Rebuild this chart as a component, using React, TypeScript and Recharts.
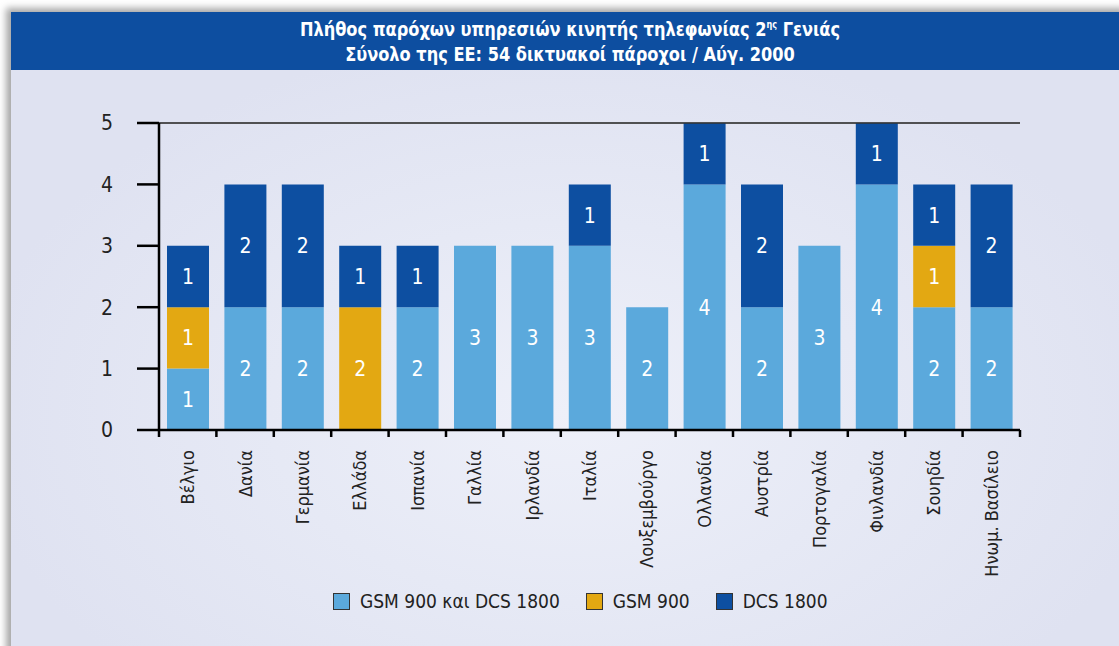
import React from 'react';
import {
  BarChart,
  Bar,
  XAxis,
  YAxis,
  CartesianGrid,
  LabelList,
  ReferenceLine,
} from 'recharts';

// χώρες της ΕΕ
const countries = [
  'Βέλγιο',
  'Δανία',
  'Γερμανία',
  'Ελλάδα',
  'Ισπανία',
  'Γαλλία',
  'Ιρλανδία',
  'Ιταλία',
  'Λουξεμβούργο',
  'Ολλανδία',
  'Αυστρία',
  'Πορτογαλία',
  'Φινλανδία',
  'Σουηδία',
  'Ηνωμ. Βασίλειο',
];
const gsmDcs = [1, 2, 2, 0, 2, 3, 3, 3, 2, 4, 2, 3, 4, 2, 2];
const gsm900 = [1, 0, 0, 2, 0, 0, 0, 0, 0, 0, 0, 0, 0, 1, 0];
const dcs1800 = [1, 2, 2, 1, 1, 0, 0, 1, 0, 1, 2, 0, 1, 1, 2];
const yTicks = [0, 1, 2, 3, 4, 5];

const series = [
  { key: 'gsmDcs', name: 'GSM 900 και DCS 1800', color: '#5ba9dc', values: gsmDcs },
  { key: 'gsm900', name: 'GSM 900', color: '#e3a812', values: gsm900 },
  { key: 'dcs1800', name: 'DCS 1800', color: '#0d4fa1', values: dcs1800 },
];

const data = countries.map((c, i) => ({
  country: c,
  gsmDcs: gsmDcs[i],
  gsm900: gsm900[i],
  dcs1800: dcs1800[i],
}));

const FONT = "'Liberation Sans Narrow', 'DejaVu Sans Condensed', sans-serif";

const CountryTick = (props: any) => {
  const { x, y, payload, index } = props;
  const half = payload.offset || 0;
  const last = index === countries.length - 1;
  return (
    <g>
      <line x1={x - half} x2={x - half} y1={y} y2={y + 7} stroke="#000" strokeWidth={2.5} />
      {last && (
        <line x1={x + half} x2={x + half} y1={y} y2={y + 7} stroke="#000" strokeWidth={2.5} />
      )}
      <text
        x={x}
        y={y + 20}
        transform={`rotate(-90, ${x}, ${y + 20})`}
        textAnchor="end"
        dominantBaseline="central"
        fill="#222"
        fontSize={18}
        fontFamily={FONT}
      >
        {payload.value}
      </text>
    </g>
  );
};

const hideZero = (v: any) => (v ? v : '');

export default function App() {
  return (
    <div
      style={{
        position: 'absolute',
        left: 0,
        top: 0,
        width: 1119,
        height: 646,
        background: '#ffffff',
        overflow: 'hidden',
        fontFamily: FONT,
      }}
    >
      <div
        style={{
          position: 'absolute',
          left: 11,
          top: 12,
          width: 1119,
          height: 646,
          background:
            'radial-gradient(ellipse 600px 380px at 560px 400px, #eef0f9 0%, #e6e9f5 50%, #dfe2f1 100%)',
          boxShadow: '-5px -4px 7px rgba(0,0,0,0.35)',
        }}
      />
      <div
        style={{
          position: 'absolute',
          left: 11,
          top: 12,
          width: 1108,
          height: 58,
          background: '#0d4ea0',
          color: '#fff',
          fontWeight: 'bold',
          fontSize: 20,
          lineHeight: '25px',
          textAlign: 'center',
          paddingTop: 0,
          paddingLeft: 10,
          boxSizing: 'border-box',
        }}
      >
        <div style={{ transform: 'scaleX(0.9)' }}>
          Πλήθος παρόχων υπηρεσιών κινητής τηλεφωνίας 2
          <sup style={{ fontSize: 10, verticalAlign: 8 }}>ης</sup> Γενιάς
        </div>
        <div style={{ transform: 'scaleX(0.9)' }}>
          Σύνολο της ΕΕ: 54 δικτυακοί πάροχοι / Αύγ. 2000
        </div>
      </div>

      <div style={{ position: 'absolute', left: 0, top: 0 }}>
        <BarChart
          width={1119}
          height={646}
          data={data}
          margin={{ top: 123, right: 99, left: 0, bottom: 0 }}
          barSize={42}
        >
          <CartesianGrid vertical={false} stroke="#707070" strokeWidth={1.2} />
          <XAxis
            dataKey="country"
            height={216}
            interval={0}
            tickSize={0}
            tickMargin={0}
            axisLine={{ stroke: '#000', strokeWidth: 2.5 }}
            tickLine={false}
            tick={<CountryTick />}
          />
          <YAxis
            yAxisId="left"
            width={159}
            domain={[0, 5]}
            ticks={yTicks}
            interval={0}
            tickSize={22}
            tickMargin={24}
            axisLine={{ stroke: '#000', strokeWidth: 2.5 }}
            tickLine={{ stroke: '#000', strokeWidth: 2.5 }}
            tick={{ fill: '#222', fontSize: 21, fontFamily: FONT }}
          />
          <YAxis
            yAxisId="right"
            orientation="right"
            width={0}
            domain={[0, 5]}
            tick={false}
            tickLine={false}
            axisLine={{ stroke: '#000', strokeWidth: 2.5 }}
          />
          <ReferenceLine yAxisId="left" y={5} stroke="#333" strokeWidth={1.5} />
          {series.map((s) => (
            <Bar
              key={s.key}
              yAxisId="left"
              dataKey={s.key}
              name={s.name}
              stackId="a"
              fill={s.color}
              isAnimationActive={false}
            >
              <LabelList
                dataKey={s.key}
                position="center"
                formatter={hideZero}
                fill="#fff"
                fontSize={21}
                fontFamily={FONT}
              />
            </Bar>
          ))}
        </BarChart>
      </div>

      <div
        style={{
          position: 'absolute',
          left: 333,
          top: 590,
          display: 'flex',
          alignItems: 'center',
          fontSize: 19,
          color: '#222',
        }}
      >
        {series.map((s, i) => (
          <div
            key={s.key}
            style={{ display: 'flex', alignItems: 'center', marginRight: i < 2 ? 26 : 0 }}
          >
            <span
              style={{
                display: 'inline-block',
                width: 15,
                height: 15,
                background: s.color,
                border: '1px solid #333',
                marginRight: 10,
              }}
            />
            <span>{s.name}</span>
          </div>
        ))}
      </div>
    </div>
  );
}
